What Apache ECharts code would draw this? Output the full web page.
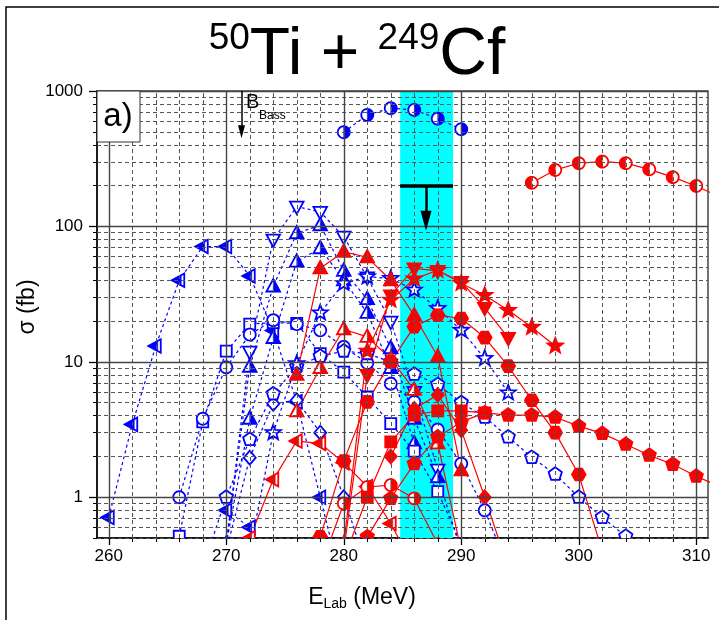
<!DOCTYPE html>
<html>
<head>
<meta charset="utf-8">
<script src="https://cdn.jsdelivr.net/npm/echarts@6/dist/echarts.min.js"></script>
<style>html,body{margin:0;padding:0;background:#fff}#c{width:719px;height:620px}</style>
</head>
<body>
<div id="c"></div>
<script>
// ---- axis ticks ----
const xMajor = [260, 270, 280, 290, 300, 310];
const xMinor = [260,262,264,266,268,270,272,274,276,278,280,282,284,286,288,290,292,294,296,298,300,302,304,306,308,310];
const yMajor = [1, 10, 100, 1000];
const yMinor = [0.5,0.6,0.7,0.8,0.9,2,3,4,5,6,7,8,9,20,30,40,50,60,70,80,90,200,300,400,500,600,700,800,900];

// ---- excitation functions, blue set (E in MeV, sigma in fb) ----
const bHalfCircE = [280, 282, 284, 286, 288, 290];
const bHalfCircS = [496, 666, 746, 725, 625, 522];
const bLeftE = [260, 262, 264, 266, 268, 270, 272, 274, 276, 278, 280];
const bLeftS = [0.71, 3.45, 13.1, 40, 71, 71, 43, 17, 5.06, 1.0, 0.2];
const bLeft2E = [270, 272, 274];
const bLeft2S = [0.8, 0.6, 0.35];
const bDownE = [270, 272, 274, 276, 278, 280, 282, 284, 286, 288];
const bDownS = [0.45, 11.9, 80, 140, 128, 84, 42, 19.8, 6, 1.6];
const bUpAE = [270, 272, 274, 276, 278, 280, 282, 284, 286, 288, 290];
const bUpAS = [0.45, 9.2, 36, 89, 102, 47, 29, 12.6, 3.8, 1.41, 0.4];
const bUpBE = [270, 272, 274, 276, 278, 280, 282, 284, 286];
const bUpBS = [0.45, 3.8, 15, 55, 69, 40, 23, 9, 2.5];
const bSquareE = [266, 268, 270, 272, 274, 276, 278, 280, 282, 284, 286, 288, 290];
const bSquareS = [0.515, 3.6, 12, 19, 19.5, 19.2, 11.5, 8.4, 5.5, 3.5, 2.19, 1.1, 0.45];
const bCircE = [266, 268, 270, 272, 274, 276, 278, 280, 282, 284, 286, 288, 290, 292, 294];
const bCircS = [1.0, 3.8, 9.1, 15.9, 20.3, 19, 17.1, 12.9, 9.8, 6.9, 5.06, 3.16, 1.77, 0.8, 0.3];
const bDiamondE = [270, 272, 274, 276, 278, 280, 282];
const bDiamondS = [0.4, 1.96, 4.9, 5.2, 3.0, 1.0, 0.3];
const bPentE = [268, 270, 272, 274, 276, 278, 280, 282, 284, 286, 288, 290, 292, 294, 296, 298, 300, 302, 304, 306];
const bPentS = [0.3, 1.0, 2.67, 5.8, 9.2, 11, 12, 11.5, 10, 8.1, 6.8, 5.0, 3.9, 2.79, 1.97, 1.48, 1.0, 0.71, 0.515, 0.37];
const bStarE = [272, 274, 276, 278, 280, 282, 284, 286, 288, 290, 292, 294];
const bStarS = [0.4, 3, 9.7, 23, 38, 42.5, 41.3, 33.9, 24.8, 17.1, 10.6, 5.9];

// ---- excitation functions, red set ----
const rHalfCircE = [296, 298, 300, 302, 304, 306, 308, 310, 312];
const rHalfCircS = [210, 261, 293, 301, 293, 264, 231, 199, 165];
const rUpE = [276, 278, 280, 282, 284, 286, 288, 290];
const rUpS = [8, 49, 65, 59, 40, 22, 10.9, 1.58];
const rUpHalfE = [276, 278, 280, 282, 284, 286, 288, 290];
const rUpHalfS = [4.3, 9, 17.4, 15.3, 10.5, 6.2, 2.5, 0.4];
const rDownE = [280, 282, 284, 286, 288, 290, 292, 294];
const rDownS = [0.4, 8.0, 31, 49, 47, 39, 25, 15];
const rStarE = [280, 282, 284, 286, 288, 290, 292, 294, 296, 298];
const rStarS = [0.45, 12, 28.6, 41, 47.5, 38, 31, 24, 18, 13.1];
const rHexE = [278, 280, 282, 284, 286, 288, 290, 292, 294, 296, 298, 300, 302];
const rHexS = [0.51, 1.85, 5.06, 10, 18.2, 22.1, 20.9, 15.1, 9.3, 5.2, 3.0, 1.47, 0.4];
const rSquareE = [280, 282, 284, 286, 288, 290, 292];
const rSquareS = [0.35, 1.0, 2.56, 4.04, 4.35, 4.35, 4.2];
const rPentE = [280, 282, 284, 286, 288, 290, 292, 294, 296, 298, 300, 302, 304, 306, 308, 310, 312];
const rPentS = [0.25, 0.51, 0.98, 1.77, 2.79, 3.6, 4.2, 4.04, 4.04, 3.9, 3.35, 2.96, 2.46, 2.04, 1.75, 1.43, 1.2];
const rDiamondE = [284, 286, 288, 290, 292, 294];
const rDiamondS = [2, 4.5, 5.7, 3.13, 1.0, 0.3];
const rHalfCircLowE = [278, 280, 282, 284, 286, 288];
const rHalfCircLowS = [0.3, 0.9, 1.19, 1.23, 0.98, 0.45];
const rLeftE = [272, 274, 276, 278, 280, 282, 284, 286];
const rLeftS = [0.5, 1.35, 2.6, 2.5, 1.8, 1.2, 0.64, 0.3];

// ---- annotations ----
const bandE = [284.8, 289.3];
const limitE = 287, limitS = 200, limitTipS = 110;
const bassE = 271.3, bassTipS = 500;

const BLUE = '#0000ff', RED = '#ff0000';

// marker outlines, pixel offsets around the data point
function ring(n, r, rot) {
  const p = [];
  for (let i = 0; i < n; i++) { const a = rot + 2 * Math.PI * i / n; p.push([r * Math.cos(a), r * Math.sin(a)]); }
  return p;
}
function starPts(ro, ri) {
  const p = [];
  for (let i = 0; i < 10; i++) { const r = i % 2 ? ri : ro; const a = -Math.PI / 2 + Math.PI * i / 5; p.push([r * Math.cos(a), r * Math.sin(a)]); }
  return p;
}
const SHAPES = {
  circle: ring(32, 6, 0),
  hexagon: ring(6, 6.8, 0),
  up: [[0, -7.5], [6.8, 5], [-6.8, 5]],
  down: [[0, 7.5], [6.8, -5], [-6.8, -5]],
  left: [[-7.5, 0], [5, -6.8], [5, 6.8]],
  square: [[-5.5, -5.5], [5.5, -5.5], [5.5, 5.5], [-5.5, 5.5]],
  diamond: [[0, -7], [6, 0], [0, 7], [-6, 0]],
  pentagon: ring(5, 7, -Math.PI / 2),
  star: starPts(8, 3.4)
};
// keep the part of a polygon on one side of a vertical line at x = cut
function clipHalf(pts, side, cut) {
  const s = side === 'left' ? -1 : 1, out = [];
  const d = q => s * (q[0] - cut);
  for (let i = 0; i < pts.length; i++) {
    const a = pts[i], b = pts[(i + 1) % pts.length];
    const ina = d(a) >= 0, inb = d(b) >= 0;
    if (ina) out.push(a);
    if (ina !== inb) { const t = d(a) / (d(a) - d(b)); out.push([a[0] + t * (b[0] - a[0]), a[1] + t * (b[1] - a[1])]); }
  }
  return out;
}

const curves = [
  { e: bLeftE, s: bLeftS, shape: 'left', fill: 'half', half: 'left', cut: 2, color: BLUE },
  { e: bLeft2E, s: bLeft2S, shape: 'left', fill: 'half', half: 'left', cut: 2, color: BLUE },
  { e: bDownE, s: bDownS, shape: 'down', fill: 'open', color: BLUE },
  { e: bUpAE, s: bUpAS, shape: 'up', fill: 'half', color: BLUE },
  { e: bUpBE, s: bUpBS, shape: 'up', fill: 'half', color: BLUE },
  { e: bSquareE, s: bSquareS, shape: 'square', fill: 'open', color: BLUE },
  { e: bCircE, s: bCircS, shape: 'circle', fill: 'open', color: BLUE },
  { e: bDiamondE, s: bDiamondS, shape: 'diamond', fill: 'open', color: BLUE },
  { e: bPentE, s: bPentS, shape: 'pentagon', fill: 'open', color: BLUE },
  { e: bStarE, s: bStarS, shape: 'star', fill: 'open', color: BLUE },
  { e: bHalfCircE, s: bHalfCircS, shape: 'circle', fill: 'half', color: BLUE },
  { e: rHalfCircE, s: rHalfCircS, shape: 'circle', fill: 'half', half: 'left', color: RED },
  { e: rLeftE, s: rLeftS, shape: 'left', fill: 'half', half: 'left', cut: 2, color: RED },
  { e: rHalfCircLowE, s: rHalfCircLowS, shape: 'circle', fill: 'half', color: RED },
  { e: rUpHalfE, s: rUpHalfS, shape: 'up', fill: 'half', color: RED },
  { e: rUpE, s: rUpS, shape: 'up', fill: 'full', color: RED },
  { e: rDiamondE, s: rDiamondS, shape: 'diamond', fill: 'full', color: RED },
  { e: rSquareE, s: rSquareS, shape: 'square', fill: 'full', color: RED },
  { e: rPentE, s: rPentS, shape: 'pentagon', fill: 'full', color: RED },
  { e: rHexE, s: rHexS, shape: 'hexagon', fill: 'full', color: RED },
  { e: rStarE, s: rStarS, shape: 'star', fill: 'full', color: RED },
  { e: rDownE, s: rDownS, shape: 'down', fill: 'full', color: RED }
];

function lineSeries(c) {
  return {
    type: 'line', silent: true, showSymbol: false, symbol: 'none', z: 3, clip: true,
    data: c.e.map((x, i) => [x, c.s[i]]),
    lineStyle: { color: c.color, width: 1.2, type: c.color === BLUE ? [3, 3] : 'solid' }
  };
}
function markerSeries(c) {
  const base = SHAPES[c.shape];
  const half = c.fill === 'half' ? clipHalf(base, c.half || 'right', c.cut || 0) : null;
  return {
    type: 'custom', silent: true, clip: true, z: 4,
    data: c.e.map((x, i) => [x, c.s[i]]),
    encode: { x: 0, y: 1 },
    renderItem(params, api) {
      const p = api.coord([api.value(0), api.value(1)]);
      const mv = q => [p[0] + q[0], p[1] + q[1]];
      const kids = [{
        type: 'polygon', shape: { points: base.map(mv) },
        style: { fill: c.fill === 'full' ? c.color : '#fff', stroke: c.color, lineWidth: 1.8 }
      }];
      if (half) kids.push({ type: 'polygon', shape: { points: half.map(mv) }, style: { fill: c.color, stroke: c.color, lineWidth: 0.5 } });
      return { type: 'group', children: kids };
    }
  };
}

const gridLine = (dashed) => ({ color: dashed ? '#555' : '#444', width: dashed ? 1 : 1.4, type: dashed ? [4, 3] : 'solid' });
const xDashed = xMinor.filter(v => xMajor.indexOf(v) < 0);
const series = [
  { type: 'line', data: [], z: 0, silent: true,
    markArea: { silent: true, itemStyle: { color: '#00ffff' }, data: [[{ xAxis: bandE[0] }, { xAxis: bandE[1] }]] } },
  { type: 'line', data: [], z: 1, silent: true,
    markLine: { silent: true, symbol: ['none', 'none'], label: { show: false }, animation: false,
      data: [].concat(
        xDashed.map(v => ({ xAxis: v, lineStyle: gridLine(true) })),
        yMinor.map(v => ({ yAxis: v, lineStyle: gridLine(true) })),
        xMajor.map(v => ({ xAxis: v, lineStyle: gridLine(false) })),
        yMajor.map(v => ({ yAxis: v, lineStyle: gridLine(false) }))
      ) } }
];
curves.forEach(c => series.push(lineSeries(c)));
curves.forEach(c => series.push(markerSeries(c)));
series.push({
  type: 'line', data: [], z: 6, silent: true,
  markLine: { silent: true, label: { show: false }, animation: false,
    data: [
      [{ coord: [bandE[0], limitS], symbol: 'none', lineStyle: { color: '#000', width: 3.5, type: 'solid' } },
       { coord: [bandE[1], limitS], symbol: 'none' }],
      [{ coord: [limitE, limitS], symbol: 'none', lineStyle: { color: '#000', width: 2.5, type: 'solid' } },
       { coord: [limitE, limitTipS], symbol: 'triangle', symbolSize: [11, 20] }],
      [{ coord: [bassE, 1000], symbol: 'none', lineStyle: { color: '#000', width: 1.5, type: 'solid' } },
       { coord: [bassE, bassTipS], symbol: 'triangle', symbolSize: [7, 13] }]
    ] }
});

const tickFont = { color: '#000', fontSize: 17, fontFamily: 'Liberation Sans' };
const option = {
  animation: false,
  grid: { left: 97, right: 11, top: 91, bottom: 82, show: true, borderColor: '#444', borderWidth: 1.5, backgroundColor: 'transparent' },
  xAxis: [
    { type: 'value', min: 259, max: 311, position: 'bottom',
      axisLine: { lineStyle: { color: '#000', width: 1.5 } },
      axisTick: { customValues: xMajor, length: 7, lineStyle: { color: '#000', width: 1.3 } },
      axisLabel: Object.assign({ customValues: xMajor, margin: 10, formatter: v => String(v) }, tickFont),
      splitLine: { show: false } },
    { type: 'value', min: 259, max: 311, position: 'bottom',
      axisLine: { show: false },
      axisTick: { customValues: xMinor, length: 4, lineStyle: { color: '#000', width: 1 } },
      axisLabel: { show: false }, splitLine: { show: false } }
  ],
  yAxis: [
    { type: 'log', min: 0.5, max: 1000, position: 'left',
      axisLine: { show: true, lineStyle: { color: '#000', width: 1.5 } },
      axisTick: { show: true, customValues: yMajor, length: 8, lineStyle: { color: '#000', width: 1.3 } },
      axisLabel: Object.assign({ customValues: yMajor, margin: 14, formatter: v => String(Math.round(v)) }, tickFont),
      splitLine: { show: false } },
    { type: 'log', min: 0.5, max: 1000, position: 'left',
      axisLine: { show: false },
      axisTick: { show: true, customValues: yMinor, length: 4, lineStyle: { color: '#000', width: 1 } },
      axisLabel: { show: false }, splitLine: { show: false } }
  ],
  series: series,
  graphic: [
    { type: 'rect', shape: { x: 6, y: 7, width: 800, height: 800 }, style: { fill: 'none', stroke: '#000', lineWidth: 1.5 }, z: 10 },
    { type: 'text', z: 10, style: {
        x: 357, y: 56, align: 'center', verticalAlign: 'middle',
        text: '{s|50}{m|Ti + }{s|249}{m|Cf}',
        rich: {
          s: { fontSize: 37, lineHeight: 50, verticalAlign: 'top', fontFamily: 'Liberation Sans', fill: '#000' },
          m: { fontSize: 66, lineHeight: 72, fontFamily: 'Liberation Sans', fill: '#000' }
        } } },
    { type: 'rect', z: 10, shape: { x: 97, y: 91, width: 43, height: 51 }, style: { fill: '#fff', stroke: '#333', lineWidth: 1 } },
    { type: 'text', z: 11, style: { x: 118, y: 117, align: 'center', verticalAlign: 'middle', text: 'a)', fontSize: 33, fontFamily: 'Liberation Sans', fill: '#000' } },
    { type: 'text', z: 11, style: { x: 246, y: 102, align: 'left', verticalAlign: 'middle', text: 'B', fontSize: 20, fontFamily: 'Liberation Sans', fill: '#000' } },
    { type: 'text', z: 11, style: { x: 259, y: 116, align: 'left', verticalAlign: 'middle', text: 'Bass', fontSize: 12, fontFamily: 'Liberation Sans', fill: '#000' } },
    { type: 'text', z: 11, rotation: Math.PI / 2, x: 28, y: 307, style: { x: 0, y: 0, align: 'center', verticalAlign: 'middle', text: 'σ (fb)', fontSize: 23, fontFamily: 'Liberation Sans', fill: '#000' } },
    { type: 'text', z: 11, style: { x: 362, y: 598, align: 'center', verticalAlign: 'middle',
        text: '{m|E}{b|Lab}{m| (MeV)}',
        rich: { m: { fontSize: 23, lineHeight: 26, fontFamily: 'Liberation Sans', fill: '#000' },
                b: { fontSize: 14, lineHeight: 20, verticalAlign: 'bottom', fontFamily: 'Liberation Sans', fill: '#000', padding: [12, 0, 0, 0] } } } }
  ]
};
const chart = echarts.init(document.getElementById('c'), null, { renderer: 'canvas' });
chart.setOption(option);
</script>
</body>
</html>
